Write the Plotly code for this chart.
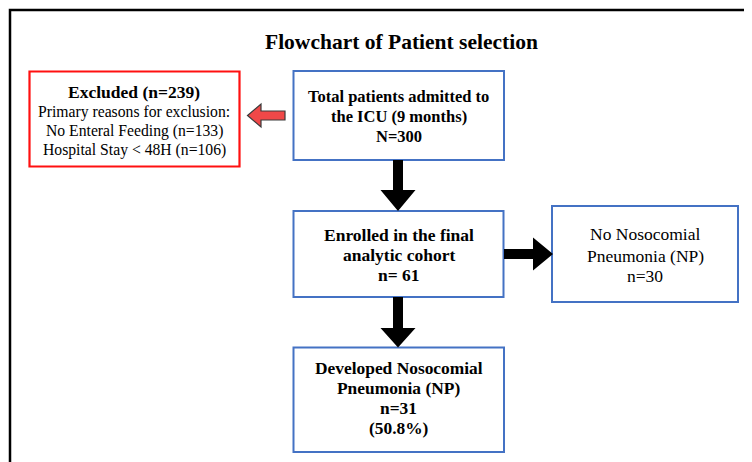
import plotly.graph_objects as go

# ---------------- data ----------------
title_text = "Flowchart of Patient selection"
total_lines = ["Total patients admitted to", "the ICU (9 months)", "N=300"]
excluded_head = "Excluded (n=239)"
excluded_lines = ["Primary reasons for exclusion:", "No Enteral Feeding (n=133)", "Hospital Stay < 48H (n=106)"]
enrolled_lines = ["Enrolled in the final", "analytic cohort", "n= 61"]
no_np_lines = ["No Nosocomial", "Pneumonia (NP)", "n=30"]
np_lines = ["Developed Nosocomial", "Pneumonia (NP)", "n=31", "(50.8%)"]

# ---------------- layout geometry (pixels) ----------------
W, H = 752, 462
OFF = 8  # page body margin
FONT = "Liberation Serif, Times New Roman, serif"
BLUE = "#4472C4"
RED = "#FF1010"

fig = go.Figure()

shapes = []
annotations = []


def rect(x0, y0, x1, y1, color, width=2):
    shapes.append(dict(type="rect", xref="x", yref="y", x0=x0, y0=y0, x1=x1, y1=y1,
                       line=dict(color=color, width=width), fillcolor="rgba(0,0,0,0)", layer="above"))


def text_line(x, baseline, s, size, bold=False):
    t = f"<b>{s}</b>" if bold else s
    annotations.append(dict(x=x, y=baseline - 0.3375 * size, xref="x", yref="y", text=t,
                            showarrow=False, xanchor="center", yanchor="middle",
                            font=dict(family=FONT, size=size, color="black")))


def path_shape(points, fill, line_color, lw=0):
    d = "M " + " L ".join(f"{px},{py}" for px, py in points) + " Z"
    shapes.append(dict(type="path", xref="x", yref="y", path=d, fillcolor=fill,
                       line=dict(color=line_color, width=lw), layer="above"))


def down_arrow(cx, y0, yb, ytip, shaft_half=5, head_half=17.5):
    pts = [(cx - shaft_half, y0), (cx + shaft_half, y0), (cx + shaft_half, yb), (cx + head_half, yb),
           (cx, ytip), (cx - head_half, yb), (cx - shaft_half, yb)]
    path_shape(pts, "black", "black", 0)


# outer frame
shapes.append(dict(type="rect", xref="x", yref="y", x0=10, y0=10, x1=W + 10, y1=H + 10,
                   line=dict(color="black", width=2.5), fillcolor="rgba(0,0,0,0)", layer="above"))

# title
text_line(401.5, 49, f"<b>{title_text}</b>", 21.5)

# boxes
rect(29.5, 71.5, 239.5, 166.5, RED, 2.2)
rect(293.5, 71, 504, 160, BLUE, 2)
rect(293.5, 211, 503.5, 297, BLUE, 2)
rect(552, 206, 738, 302, BLUE, 2)
rect(293.5, 347.5, 504, 452, BLUE, 2)

# excluded text
text_line(134, 98, excluded_head, 17.5, bold=True)
for s, b in zip(excluded_lines, [117.5, 136.5, 155.5]):
    text_line(134, b, s, 15.7)

# total text
for s, b in zip(total_lines, [102, 122.5, 142.5]):
    text_line(398.5, b, s, 16.5, bold=True)

# enrolled text
for s, b in zip(enrolled_lines, [240.5, 260.5, 280.5]):
    text_line(398.5, b, s, 17.5, bold=True)

# no NP text
for s, b in zip(no_np_lines, [239.5, 261.5, 282]):
    text_line(645, b, s, 17.5)

# NP text
for s, b in zip(np_lines, [373.5, 393.5, 414, 433.5]):
    text_line(398.5, b, s, 17.4, bold=True)

# arrows
down_arrow(398, 160, 190, 211)
down_arrow(398, 297, 328, 347.5)
# right arrow
cy = 254
path_shape([(504, cy - 5), (533, cy - 5), (533, cy - 16.5), (553, cy), (533, cy + 16.5),
            (533, cy + 5), (504, cy + 5)], "black", "black", 0)
# red left arrow
cy = 115.5
path_shape([(285, cy - 4.5), (261, cy - 4.5), (261, cy - 11.5), (247.5, cy), (261, cy + 11.5),
            (261, cy + 4.5), (285, cy + 4.5)], "#F04848", "#3a3a3a", 1.2)

fig.update_layout(
    width=W - OFF, height=H - OFF,
    margin=dict(l=0, r=0, t=0, b=0),
    paper_bgcolor="white", plot_bgcolor="white",
    xaxis=dict(range=[OFF, W], visible=False, fixedrange=True),
    yaxis=dict(range=[H, OFF], visible=False, fixedrange=True),
    shapes=shapes, annotations=annotations, showlegend=False,
)

fig.write_html("out.html")
